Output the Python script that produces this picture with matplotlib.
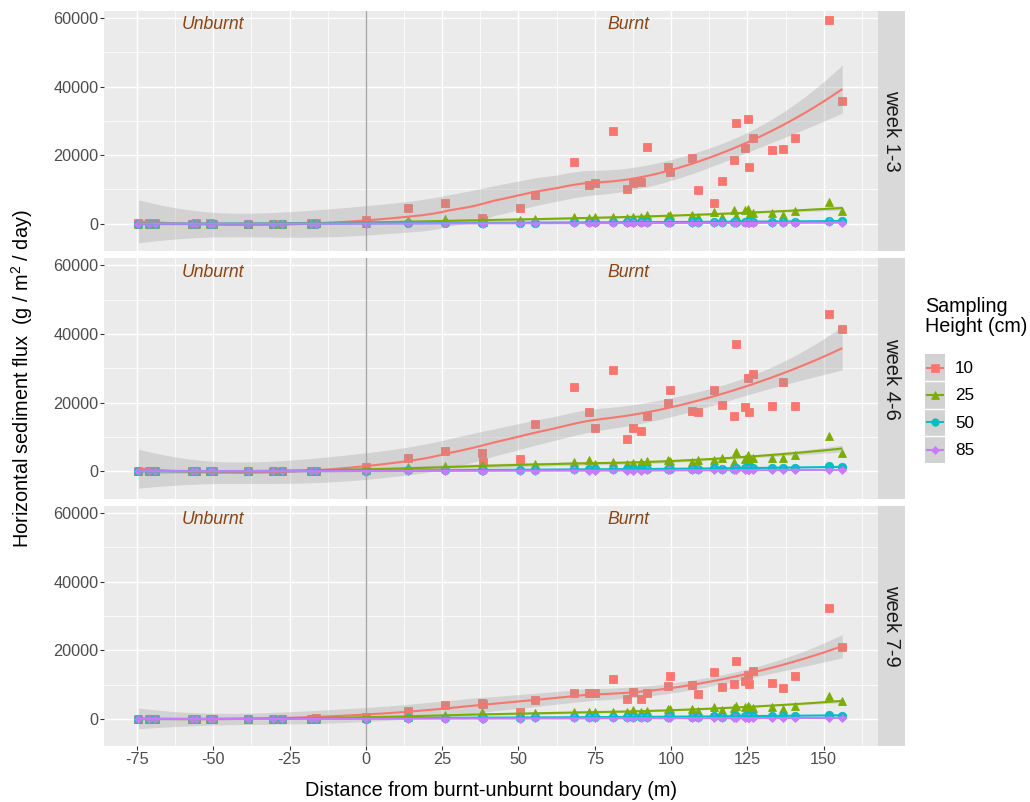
import numpy as np
import matplotlib
matplotlib.use("Agg")
import matplotlib.pyplot as plt
from matplotlib.ticker import MultipleLocator, FixedLocator
from matplotlib.patches import Rectangle

plt.rcParams['font.family'] = ['Liberation Sans', 'DejaVu Sans']
plt.rcParams['mathtext.fontset'] = 'custom'
plt.rcParams['mathtext.rm'] = 'Liberation Sans'
plt.rcParams['mathtext.it'] = 'Liberation Sans:italic'

# ---------------- data ----------------
distance = [-74.5, -71, -69, -57, -55.5, -51, -50, -38.5, -30.5, -27.5, -18, -16.5,
            0, 13.9, 25.9, 37.9, 38.4, 50.5, 55.4, 68.2, 73.2, 75.0, 81.0, 85.6,
            87.6, 90.0, 92.2, 99.0, 99.8, 106.9, 108.9, 114.0, 116.6, 120.6, 121.2,
            124.2, 125.3, 125.6, 126.7, 133.1, 136.6, 140.6, 151.8, 156.1]

weeks = ["week 1-3", "week 4-6", "week 7-9"]
heights = ["10", "25", "50", "85"]

# week 1-3
h10_w1 = [150, 90, 120, 60, 80, 130, 70, 40, 60, 50, 110, 180,
          1000, 4600, 6000, 1700, 1200, 4600, 8500, 18000, 11200, 11900, 26900, 10100,
          11900, 12200, 22500, 16500, 15000, 19100, 9900, 6100, 12400, 18500, 29500,
          22000, 30600, 16600, 25100, 21400, 21800, 25100, 59300, 35900]
h25_w1 = [60, 40, 50, 30, 40, 60, 30, 20, 30, 20, 50, 80,
          300, 1000, 1400, 700, 500, 1200, 1400, 2000, 1700, 2000, 2100, 1650,
          1850, 1950, 2600, 2300, 2500, 2600, 1950, 3400, 2100, 3900, 2400,
          3900, 4300, 2600, 3000, 3100, 2600, 3600, 6300, 3800]
h50_w1 = [30, 20, 25, 15, 20, 30, 15, 10, 15, 10, 25, 40,
          100, 250, 300, 200, 150, 300, 350, 450, 400, 450, 500, 400,
          450, 450, 500, 550, 500, 550, 450, 600, 500, 650, 550,
          650, 600, 500, 600, 650, 550, 650, 900, 850]
h85_w1 = [15, 10, 12, 8, 10, 15, 8, 5, 8, 5, 12, 20,
          50, 100, 120, 80, 60, 110, 130, 180, 150, 170, 200, 160,
          170, 180, 200, 220, 210, 230, 190, 250, 210, 260, 230,
          270, 260, 220, 250, 280, 240, 280, 380, 360]

# week 4-6
h10_w2 = [140, 100, 110, 70, 90, 120, 60, 50, 70, 40, 100, 160,
          1100, 4000, 6000, 5300, 2700, 3500, 13800, 24700, 17200, 12500, 29400, 9400,
          12500, 11800, 16000, 19900, 23700, 17500, 17400, 23800, 19300, 16000, 37200,
          18800, 27200, 17400, 28400, 19100, 25900, 19100, 45700, 41400]
h25_w2 = [70, 50, 60, 30, 40, 60, 40, 20, 30, 30, 60, 90,
          300, 1100, 1400, 1800, 1200, 1100, 2200, 2800, 3300, 2200, 2800, 2000,
          2500, 2600, 3100, 3300, 3000, 2600, 3200, 3300, 3900, 2600, 5500,
          3600, 4750, 3400, 3800, 3900, 4000, 4700, 10300, 5200]
h50_w2 = [35, 25, 30, 20, 25, 30, 20, 10, 15, 15, 30, 45,
          150, 300, 400, 350, 250, 350, 500, 650, 600, 550, 700, 550,
          650, 600, 700, 750, 800, 700, 750, 850, 800, 750, 950,
          900, 1000, 850, 950, 900, 1000, 1000, 1400, 1350]
h85_w2 = [18, 12, 15, 10, 12, 15, 10, 6, 8, 8, 15, 22,
          60, 120, 140, 130, 100, 130, 170, 220, 200, 190, 240, 190,
          210, 200, 230, 250, 260, 240, 250, 280, 270, 260, 310,
          300, 320, 290, 310, 300, 320, 330, 450, 430]

# week 7-9
h10_w3 = [120, 80, 100, 50, 70, 110, 60, 40, 50, 40, 90, 140,
          500, 2400, 4100, 4600, 4300, 2100, 5600, 7700, 7700, 7700, 11700, 5900,
          7900, 5800, 7700, 9700, 12600, 10000, 7200, 13600, 9300, 10100, 16800,
          11200, 12800, 10200, 13900, 10400, 9000, 12400, 32300, 21000]
h25_w3 = [50, 40, 45, 25, 35, 50, 30, 15, 25, 20, 45, 70,
          200, 700, 1200, 2100, 1500, 900, 1650, 2100, 2100, 1950, 2000, 1950,
          2600, 1950, 2300, 2900, 2900, 2800, 2400, 3400, 2600, 3100, 3900,
          3400, 3900, 3400, 3100, 3600, 2800, 3900, 6700, 5100]
h50_w3 = [30, 20, 25, 15, 20, 25, 15, 10, 12, 10, 25, 35,
          120, 300, 400, 450, 350, 350, 450, 550, 550, 500, 600, 500,
          600, 550, 600, 700, 750, 700, 650, 800, 700, 750, 900,
          800, 900, 800, 850, 850, 800, 900, 1200, 1000]
h85_w3 = [15, 10, 12, 8, 10, 12, 8, 5, 6, 5, 12, 18,
          50, 100, 120, 130, 110, 110, 140, 170, 170, 160, 190, 160,
          180, 170, 190, 210, 220, 210, 200, 230, 210, 220, 260,
          240, 260, 240, 250, 250, 240, 260, 340, 300]

flux = {
    "week 1-3": [h10_w1, h25_w1, h50_w1, h85_w1],
    "week 4-6": [h10_w2, h25_w2, h50_w2, h85_w2],
    "week 7-9": [h10_w3, h25_w3, h50_w3, h85_w3],
}

colors = ["#F8766D", "#7CAE00", "#00BFC4", "#C77CFF"]
markers = ["s", "^", "o", "D"]
msizes = [6.0, 6.4, 6.0, 4.3]


# ---------------- local quadratic regression (loess) ----------------
def t975(df):
    z = 1.959964
    g1 = (z**3 + z) / 4
    g2 = (5 * z**5 + 16 * z**3 + 3 * z) / 96
    g3 = (3 * z**7 + 19 * z**5 + 17 * z**3 - 15 * z) / 384
    return z + g1 / df + g2 / df**2 + g3 / df**3


def loess_band(x, y, xs, span=0.75):
    x = np.asarray(x, float)
    y = np.asarray(y, float)
    n = len(x)
    q = int(np.floor(n * span))

    def smoother_row(x0):
        d = np.abs(x - x0)
        h = np.sort(d)[q - 1]
        u = d / h
        w = np.where(u < 1, (1 - u**3) ** 3, 0.0)
        X = np.column_stack([np.ones(n), x - x0, (x - x0) ** 2])
        A = X.T @ (w[:, None] * X)
        return np.linalg.solve(A, X.T * w)[0]

    L = np.array([smoother_row(v) for v in x])
    resid = y - L @ y
    R = np.eye(n) - L
    M = R.T @ R
    d1 = np.trace(M)
    d2 = np.trace(M @ M)
    s = np.sqrt(np.sum(resid**2) / d1)
    df = d1**2 / d2
    Lg = np.array([smoother_row(v) for v in xs])
    fit = Lg @ y
    se = s * np.sqrt(np.sum(Lg**2, axis=1))
    t = t975(df)
    return fit, fit - t * se, fit + t * se


# ---------------- figure layout ----------------
W, H = 1030, 802
fig = plt.figure(figsize=(W / 100, H / 100), dpi=100)
fig.patch.set_facecolor("white")


def fx(px):
    return px / W


def fy(py):
    return 1 - py / H


left, right = 104.3, 877.7
panel_h = 240.5
tops = [10.7, 258.2, 505.9]
strip_right = 905.0

xlim = (-85.7, 167.7)
ylim = (-8000, 62100)
ribbon_col = "#999999"

x_arr = np.array(distance)
xs = np.linspace(x_arr.min(), x_arr.max(), 80)

for i, wk in enumerate(weeks):
    top = tops[i]
    ax = fig.add_axes([fx(left), fy(top + panel_h), fx(right - left), panel_h / H])
    ax.set_facecolor("#EBEBEB")
    for sp in ax.spines.values():
        sp.set_visible(False)
    ax.set_xlim(*xlim)
    ax.set_ylim(*ylim)
    ax.xaxis.set_major_locator(FixedLocator([-75, -50, -25, 0, 25, 50, 75, 100, 125, 150]))
    ax.xaxis.set_minor_locator(FixedLocator([-62.5, -37.5, -12.5, 12.5, 37.5, 62.5, 87.5,
                                             112.5, 137.5, 162.5]))
    ax.yaxis.set_major_locator(FixedLocator([0, 20000, 40000, 60000]))
    ax.yaxis.set_minor_locator(FixedLocator([10000, 30000, 50000]))
    ax.grid(which="major", color="white", lw=1.05)
    ax.grid(which="minor", color="white", lw=0.55)
    ax.set_axisbelow(True)
    ax.tick_params(which="major", length=2.75, width=0.8, color="#333333",
                   labelsize=11.7, labelcolor="#4D4D4D", pad=1.6)
    ax.tick_params(which="minor", length=0)
    ax.set_yticklabels(["0", "20000", "40000", "60000"])
    if i < 2:
        ax.tick_params(axis="x", which="both", bottom=False, labelbottom=False)
    else:
        ax.set_xticklabels(["-75", "-50", "-25", "0", "25", "50", "75", "100", "125", "150"])

    ax.axvline(0, color="#A6A6A6", lw=1.0, zorder=1)

    series = flux[wk]
    for k in range(4):
        ax.plot(distance, series[k], linestyle="none", marker=markers[k], ms=msizes[k],
                mfc=colors[k], mec=colors[k], mew=0.6, zorder=2 + k * 0.01)

    for k in range(4):
        fit, lo, hi = loess_band(distance, series[k], xs)
        ax.fill_between(xs, lo, hi, color=ribbon_col, alpha=0.3, lw=0, zorder=3 + k * 0.1)
        ax.plot(xs, fit, color=colors[k], lw=1.5, zorder=3.05 + k * 0.1,
                solid_capstyle="butt")

    ax.text(-50, 58000, "Unburnt", color="#8B4513", style="italic", fontsize=12.7,
            ha="center", va="center", zorder=5)
    ax.text(86, 58000, "Burnt", color="#8B4513", style="italic", fontsize=12.7,
            ha="center", va="center", zorder=5)

    # facet strip
    sax = fig.add_axes([fx(right), fy(top + panel_h), fx(strip_right - right), panel_h / H])
    sax.set_facecolor("#D9D9D9")
    sax.set_xticks([])
    sax.set_yticks([])
    for sp in sax.spines.values():
        sp.set_visible(False)
    sax.text(0.5, 0.5, wk, rotation=270, ha="center", va="center", fontsize=14.5,
             color="#1A1A1A", transform=sax.transAxes)

# axis titles
fig.text(fx((left + right) / 2), fy(790), "Distance from burnt-unburnt boundary (m)",
         ha="center", va="center", fontsize=14.3, color="black")
fig.text(fx(22.5), fy((tops[0] + tops[2] + panel_h) / 2),
         r"Horizontal sediment flux  (g / m$^{2}$ / day)",
         rotation=90, ha="center", va="center", fontsize=14.3, color="black")

# legend
fig.text(fx(925), fy(312), "Sampling", ha="left", va="baseline", fontsize=14.2)
fig.text(fx(925), fy(331.7), "Height (cm)", ha="left", va="baseline", fontsize=14.2)
key_top, key_h = 354.0, 27.3
lax = fig.add_axes([fx(925), fy(key_top + 4 * key_h), fx(945 - 925), 4 * key_h / H])
lax.set_xlim(0, 1)
lax.set_ylim(4, 0)
lax.axis("off")
for k in range(4):
    lax.add_patch(Rectangle((0, k), 1, 1, facecolor="#EBEBEB", edgecolor="none"))
    lax.add_patch(Rectangle((0, k), 1, 1, facecolor=ribbon_col, alpha=0.3, edgecolor="none"))
    lax.plot([0.1, 0.9], [k + 0.5, k + 0.5], color=colors[k], lw=1.5)
    lax.plot([0.5], [k + 0.5], marker=markers[k], ms=msizes[k] * 0.9, mfc=colors[k],
             mec=colors[k], mew=0.5, linestyle="none")
    if k > 0:
        lax.plot([0, 1], [k, k], color="white", lw=1.0)
    fig.text(fx(955), fy(key_top + key_h * (k + 0.5) + 1), heights[k], ha="left",
             va="center", fontsize=12.3)

fig.savefig("out.png", dpi=100)
